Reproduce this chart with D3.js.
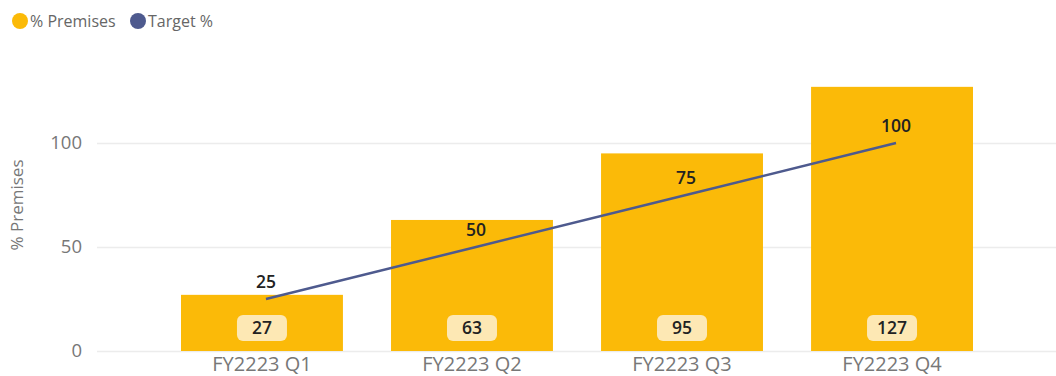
<!DOCTYPE html>
<html>
<head>
<meta charset="utf-8">
<script src="https://cdn.jsdelivr.net/npm/d3@7"></script>
<style>
  html, body { margin: 0; padding: 0; background: #fff; }
  svg { display: block; font-family: "Open Sans", "Noto Sans", sans-serif; }
</style>
</head>
<body>
<svg id="chart" width="1056" height="376"></svg>
<script>
const quarters = ["FY2223 Q1", "FY2223 Q2", "FY2223 Q3", "FY2223 Q4"];
const premisesPct = [27, 63, 95, 127];
const targetPct = [25, 50, 75, 100];
const yTicks = [0, 50, 100];

const svg = d3.select("#chart");
const barColor = "#FBBA08";
const lineColor = "#4E5A8E";

const x = d3.scaleBand()
  .domain(quarters)
  .range([97, 1057])
  .paddingInner(0.229)
  .paddingOuter(0.4);

const y = d3.scaleLinear()
  .domain([0, 100])
  .range([351, 143]);

// gridlines + y tick labels
const yAxis = d3.axisLeft(y).tickValues(yTicks).tickSize(-960).tickPadding(15);
const gy = svg.append("g").attr("transform", "translate(97,0)").call(yAxis);
gy.select(".domain").remove();
gy.selectAll(".tick line").attr("stroke", "#ececec").attr("stroke-width", 1.5);
gy.selectAll(".tick text")
  .attr("fill", "#777").attr("font-size", 18.5).attr("font-family", "Open Sans, sans-serif");

// y axis title
svg.append("text")
  .attr("transform", "translate(23,205) rotate(-90)")
  .attr("text-anchor", "middle")
  .attr("fill", "#777")
  .attr("font-size", 17)
  .text("% Premises");

// bars
svg.append("g").selectAll("rect")
  .data(quarters)
  .join("rect")
  .attr("x", d => x(d))
  .attr("width", x.bandwidth())
  .attr("y", (d, i) => y(premisesPct[i]))
  .attr("height", (d, i) => y(0) - y(premisesPct[i]))
  .attr("fill", barColor);

// x axis labels
const xAxis = d3.axisBottom(x).tickSize(0).tickPadding(0);
const gx = svg.append("g").attr("transform", "translate(0,351)").call(xAxis);
gx.select(".domain").remove();
gx.selectAll(".tick text")
  .attr("dy", null)
  .attr("y", 20)
  .attr("fill", "#777").attr("font-size", 20).attr("font-family", "Open Sans, sans-serif");

// bar value labels in rounded boxes
const barLabels = svg.append("g").selectAll("g")
  .data(quarters)
  .join("g")
  .attr("transform", d => `translate(${x(d) + x.bandwidth() / 2},328)`);
barLabels.append("rect")
  .attr("x", -25).attr("y", -13).attr("width", 50).attr("height", 26)
  .attr("rx", 6).attr("fill", "#FDE8B4");
barLabels.append("text")
  .attr("text-anchor", "middle").attr("dy", "0.36em")
  .attr("font-size", 17.5).attr("font-weight", 600).attr("fill", "#222")
  .text((d, i) => premisesPct[i]);

// target line
const lineOffset = 4;
const line = d3.line()
  .x((d, i) => x(quarters[i]) + x.bandwidth() / 2 + lineOffset)
  .y(d => y(d));
svg.append("path")
  .datum(targetPct)
  .attr("d", line)
  .attr("fill", "none")
  .attr("stroke", lineColor)
  .attr("stroke-width", 2.5);

// target labels
svg.append("g").selectAll("text")
  .data(targetPct)
  .join("text")
  .attr("x", (d, i) => x(quarters[i]) + x.bandwidth() / 2 + lineOffset)
  .attr("y", d => y(d) - 11)
  .attr("text-anchor", "middle")
  .attr("font-size", 17.5).attr("font-weight", 600).attr("fill", "#222")
  .text(d => d);

// legend
const legend = [
  { label: "% Premises", color: barColor, x: 20 },
  { label: "Target %", color: lineColor, x: 138 }
];
const lg = svg.append("g").selectAll("g").data(legend).join("g")
  .attr("transform", d => `translate(${d.x},21)`);
lg.append("circle").attr("r", 8).attr("fill", d => d.color);
lg.append("text").attr("x", 10).attr("dy", "0.35em")
  .attr("font-size", 16).attr("fill", "#666").text(d => d.label);
</script>
</body>
</html>
